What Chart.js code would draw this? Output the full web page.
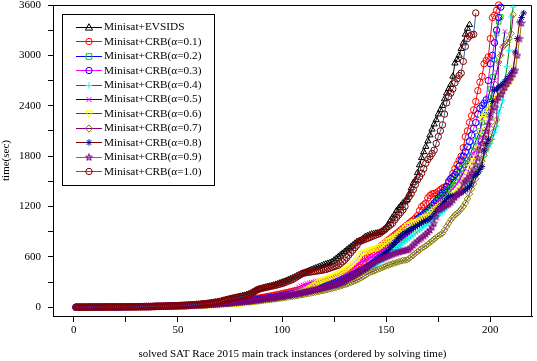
<!DOCTYPE html>
<html>
<head>
<meta charset="utf-8">
<script src="https://cdn.jsdelivr.net/npm/chart.js@4/dist/chart.umd.min.js"></script>
<style>
html,body{margin:0;padding:0;background:#fff;}
#wrap{width:537px;height:361px;position:relative;}
</style>
</head>
<body>
<div id="wrap"><canvas id="c" width="537" height="361"></canvas></div>
<script>
// ---------- DATA ----------
const seriesNames = ['Minisat+EVSIDS','Minisat+CRB(α=0.1)','Minisat+CRB(α=0.2)','Minisat+CRB(α=0.3)','Minisat+CRB(α=0.4)','Minisat+CRB(α=0.5)','Minisat+CRB(α=0.6)','Minisat+CRB(α=0.7)','Minisat+CRB(α=0.8)','Minisat+CRB(α=0.9)','Minisat+CRB(α=1.0)'];
const xTickValues = [0,25,50,75,100,125,150,175,200];
const xLabelValues = [0,50,100,150,200];
const yTickValues = [0,300,600,900,1200,1500,1800,2100,2400,2700,3000,3300,3600];
const yLabelValues = [0,600,1200,1800,2400,3000,3600];
const xAxisTitle = 'solved SAT Race 2015 main track instances (ordered by solving time)';
const yAxisTitle = 'time(sec)';

const evsids = [0,0,0,0,0,0,1,1,1,1, 1,1,1,2,2,2,2,2,3,3, 3,3,4,4,4,4,5,5,5,6, 6,6,7,7,8,8,9,9,10,10,
 11,12,12,13,14,15,16,17,18,19, 20,21,22,23,25,27,29,31,33,35, 37,40,42,45,48,52,56,60,64,68,
 73,80,86,92,98,104,110,116,122,128, 134,140,147,155,165,178,192,204,214,222, 229,236,242,248,255,262,270,278,287,296,
 305,315,325,336,347,358,370,380,392,404, 414,424,434,444,454,464,474,484,494,504, 512,520,530,540,560,580,600,620,640,660,
 680,700,720,740,760,780,790,800,820,840, 850,860,870,875,880,885,890,900,920,950, 990,1030,1070,1100,1150,1180,1210,1240,1260,1280,
 1350,1420,1480,1515,1600,1694,1780,1850,1913,1980, 2050,2120,2180,2231,2300,2350,2400,2480,2550,2600, 2650,2750,2907,2950,3000,3080,3146,3250,3320,3365];

const crb01 = [0,0,0,0,0,0,0,1,1,1, 1,1,1,1,2,2,2,2,2,3, 3,3,3,4,4,4,5,5,5,6, 6,7,7,8,8,9,9,10,11,11,
 12,13,13,14,15,16,17,18,19,20, 21,22,23,24,25,27,28,29,31,32, 34,35,37,39,41,43,45,47,49,51,
 53,56,58,61,63,66,69,72,75,78, 81,84,88,91,95,98,102,106,110,114, 118,122,127,131,136,141,146,151,156,161,
 166,172,177,183,189,195,201,207,214,220, 227,234,241,248,255,263,270,278,286,294, 302,311,320,329,338,347,357,367,377,388,
 399,410,422,434,446,459,472,500,540,580, 600,620,640,660,680,700,720,740,760,780, 800,820,840,860,880,900,920,940,960,980,
 1000,1020,1040,1060,1090,1150,1197,1220,1240,1300, 1330,1350,1356,1360,1380,1400,1420,1430,1435,1480, 1530,1594,1650,1700,1750,1800,1900,2030,2100,2200,
 2280,2350,2450,2580,2680,2750,2900,2940,2981,3200, 3450,3477,3537,3600];

const crb02 = [0,0,0,0,0,0,0,0,0,1, 1,1,1,1,1,1,1,2,2,2, 2,2,2,3,3,3,3,4,4,4, 5,5,5,6,6,7,7,7,8,8,
 9,9,10,10,11,12,12,13,14,14, 15,16,17,18,19,20,21,22,23,24, 26,27,29,30,32,33,35,37,39,41,
 43,45,47,49,51,54,56,58,61,63, 66,69,72,75,78,81,84,88,91,95, 98,102,106,110,114,118,122,126,131,136,
 140,145,150,155,160,165,170,176,181,187, 193,199,205,211,218,225,232,239,246,253, 260,268,276,284,292,300,309,318,328,338,
 348,359,370,382,394,406,419,432,446,460, 475,490,505,520,540,560,580,600,620,640, 660,680,700,720,745,770,795,820,845,870,
 895,920,950,980,1010,1040,1070,1100,1125,1150, 1175,1200,1230,1260,1290,1320,1340,1360,1380,1400, 1430,1460,1500,1550,1600,1650,1690,1720,1760,1800,
 1860,1920,1980,2040,2100,2200,2300,2400,2500,2600, 2743,2950,3260,3400,3457];

const crb03 = [0,0,0,0,0,0,0,0,1,1, 1,1,1,1,1,1,2,2,2,2, 2,2,3,3,3,3,4,4,4,5, 5,5,6,6,6,7,7,8,8,9,
 9,10,10,11,12,12,13,14,14,15, 16,17,18,19,20,21,22,23,24,25, 27,28,30,31,33,35,36,38,40,42,
 44,46,48,50,53,55,57,60,62,65, 68,71,74,77,80,83,86,90,93,97, 100,104,108,112,116,120,124,128,133,138,
 142,147,152,157,162,167,173,178,184,190, 196,202,208,214,221,228,235,242,249,256, 263,271,279,287,295,304,313,322,332,342,
 352,363,374,386,398,410,423,436,450,465, 480,500,520,540,560,580,600,630,660,700, 720,740,760,780,800,820,840,860,880,900,
 930,960,990,1020,1050,1070,1090,1110,1130,1150, 1180,1210,1240,1270,1300,1330,1360,1400,1440,1500, 1530,1554,1580,1610,1680,1754,1800,1850,1910,1972,
 2050,2130,2200,2300,2370,2400,2430,2470,2700,2900, 3000,3150,3300,3450,3575];

const crb04 = [0,0,0,0,0,0,0,0,0,1, 1,1,1,1,1,1,1,2,2,2, 2,2,3,3,3,3,4,4,4,4, 5,5,5,6,6,7,7,7,8,8,
 9,9,10,11,11,12,12,13,14,14, 15,16,17,17,18,19,20,21,22,23, 24,26,27,28,30,31,33,35,36,38,
 40,42,44,46,48,50,52,55,57,60, 62,65,67,70,73,76,79,82,85,88, 91,95,98,102,105,109,113,117,121,125,
 129,133,137,142,146,151,156,160,165,170, 175,181,186,192,197,203,209,215,221,228, 234,241,248,255,262,270,278,286,295,305,
 315,326,338,350,362,375,388,402,416,430, 445,460,475,490,505,520,540,560,580,600, 620,640,660,680,700,720,740,760,780,800,
 820,840,860,880,900,920,940,960,980,1000, 1020,1040,1060,1080,1100,1120,1140,1160,1190,1220, 1250,1280,1310,1340,1370,1400,1430,1460,1480,1500,
 1530,1560,1600,1650,1700,1750,1800,1850,1900,1950, 2000,2080,2150,2311,2380,2466,2705,2862,3061,3457, 3575];

const crb05 = [0,0,0,0,0,0,0,0,1,1, 1,1,1,1,1,2,2,2,2,2, 2,3,3,3,3,4,4,4,5,5, 5,6,6,7,7,8,8,9,9,10,
 10,11,11,12,13,13,14,15,16,17, 17,18,19,20,21,22,24,25,26,27, 29,30,32,33,35,37,39,41,43,45,
 47,49,51,54,56,58,61,63,66,69, 72,75,78,81,84,87,90,94,97,101, 105,109,113,117,121,125,130,135,140,145,
 150,156,162,170,180,195,215,240,255,265, 272,280,290,296,300,305,310,315,320,326, 332,338,345,352,360,368,376,385,395,405,
 420,440,460,480,500,515,530,545,552,560, 575,590,602,615,630,645,660,675,690,700, 720,740,760,780,800,815,830,845,860,880,
 900,920,940,960,980,1000,1025,1050,1075,1100, 1125,1150,1175,1200,1225,1250,1275,1300,1325,1350, 1380,1410,1440,1470,1500,1550,1600,1650,1700,1750,
 1790,1830,1870,1910,1950,1990,2050,2120,2200,2300, 2605,2700,2800,2900,3020,3100,3285];

const crb06 = [0,0,0,0,0,0,0,0,0,0, 0,1,1,1,1,1,1,1,1,2, 2,2,2,2,2,3,3,3,3,4, 4,4,4,5,5,5,6,6,6,7,
 7,8,8,9,9,10,10,11,11,12, 12,13,14,14,15,16,17,17,18,19, 20,21,22,23,24,25,27,28,29,31,
 32,34,35,37,39,41,43,45,47,49, 52,54,57,60,63,66,69,72,76,80, 84,88,92,96,100,105,110,115,120,126,
 132,138,144,150,157,164,171,178,186,194, 204,215,228,242,258,275,292,305,318,330, 340,350,360,370,380,390,400,415,430,445,
 460,480,500,520,545,570,600,640,650,660, 670,680,690,700,700,710,725,740,760,780, 795,810,825,840,850,870,890,920,950,975,
 990,1000,1010,1020,1030,1040,1055,1070,1085,1100, 1120,1140,1160,1180,1200,1220,1240,1260,1280,1300, 1320,1340,1360,1380,1400,1430,1470,1520,1590,1670,
 1710,1750,1790,1900,2100,2250,2280,2310,2350,2400, 2430,2460,2490,2520,2550,2580,2610,2640,2670,2700, 2860,3000,3180];

const crb07 = [0,0,0,0,0,0,0,0,0,0, 1,1,1,1,1,1,1,1,2,2, 2,2,2,2,3,3,3,3,4,4, 4,4,5,5,5,6,6,7,7,7,
 8,8,9,9,10,10,11,11,12,13, 13,14,15,15,16,17,18,19,20,21, 22,23,24,25,27,28,29,31,32,34,
 35,37,39,40,42,44,46,48,50,52, 54,57,59,61,64,66,69,71,74,77, 80,83,86,89,92,95,98,102,105,109,
 112,116,120,124,128,132,136,140,145,149, 154,158,163,168,173,178,183,188,194,199, 205,211,217,223,229,236,243,250,258,266,
 275,284,293,303,313,323,335,350,365,380, 395,410,420,430,440,450,460,470,480,490, 500,510,518,526,534,542,550,556,560,563,
 580,600,620,640,660,680,700,715,730,750, 770,790,810,830,850,865,880,920,960,1000, 1040,1070,1100,1118,1140,1170,1200,1240,1290,1350,
 1410,1470,1530,1600,1673,1740,1810,1880,1940,2000, 2080,2160,2231,2920,3000,3100,3130,3150,3200,3260, 3485];

const crb08 = [0,0,0,0,0,0,0,0,0,1, 1,1,1,1,1,1,1,2,2,2, 2,2,2,3,3,3,3,4,4,4, 4,5,5,5,6,6,7,7,8,8,
 9,9,10,10,11,11,12,13,13,14, 15,16,16,17,18,19,20,21,22,23, 25,26,27,29,30,32,33,35,37,39,
 41,43,45,47,49,51,53,56,58,61, 63,66,68,71,74,77,80,83,86,89, 92,96,99,103,106,110,114,118,122,126,
 130,134,139,143,148,152,157,162,167,172, 177,182,188,193,199,205,211,217,223,230, 236,243,250,257,264,272,280,290,300,312,
 325,338,352,366,380,395,410,425,440,455, 470,490,510,530,550,570,590,610,630,650, 680,710,740,770,800,830,850,870,885,900,
 915,930,945,960,975,990,1005,1020,1030,1040, 1060,1080,1110,1140,1170,1200,1230,1260,1290,1316, 1320,1325,1330,1340,1350,1360,1380,1400,1420,1440,
 1480,1554,1580,1600,1640,1674,1871,1950,2000,2300, 2450,2585,2600,2620,2640,2660,2690,2720,2750,2790, 2823,3040,3200,3398,3450,3505];

const crb09 = [0,0,0,0,0,0,0,0,1,1, 1,1,1,1,1,1,2,2,2,2, 2,2,3,3,3,3,4,4,4,5, 5,5,6,6,7,7,8,8,9,9,
 10,10,11,12,12,13,14,15,15,16, 17,18,19,20,21,22,23,24,25,27, 28,30,31,33,34,36,38,40,42,44,
 46,48,50,52,54,57,59,62,64,67, 70,72,75,78,81,84,87,90,94,97, 100,104,107,111,114,118,122,126,130,134,
 138,142,146,151,155,160,164,169,174,179, 184,189,194,200,205,211,217,223,229,235, 241,247,254,260,267,274,281,292,305,318,
 332,346,360,375,390,405,420,440,455,470, 485,500,515,530,545,560,570,580,590,600, 610,620,630,640,650,658,665,672,678,684,
 690,715,740,765,790,810,830,850,870,895, 920,960,1000,1080,1157,1170,1185,1200,1215,1230, 1250,1280,1310,1340,1370,1400,1475,1500,1530,1560,
 1600,1640,1700,1780,1871,1950,2030,2100,2180,2260, 2347,2386,2466,2500,2540,2580,2620,2665,2700,2740, 2780,2823,3000,3200,3385];

const crb10 = [0,0,0,0,0,0,1,1,1,1, 1,1,1,2,2,2,2,2,2,3, 3,3,3,4,4,4,4,5,5,5, 6,6,6,7,7,8,8,9,9,10,
 10,11,12,12,13,14,15,16,17,18, 19,20,21,22,23,25,27,29,31,33, 35,38,40,43,46,50,54,58,62,66,
 72,80,87,93,99,105,110,115,120,125, 130,136,142,150,160,175,190,206,215,222, 228,234,240,245,250,256,262,268,275,282,
 290,300,310,320,330,345,360,375,390,404, 408,412,416,420,424,428,432,436,440,445, 450,458,466,475,483,492,500,520,540,560,
 590,620,650,680,710,740,779,790,800,810, 820,830,840,850,860,870,880,900,920,940, 960,980,1000,1038,1070,1100,1130,1160,1200,1277,
 1316,1350,1400,1460,1515,1555,1595,1650,1714,1760, 1794,1830,1870,1950,2032,2100,2172,2300,2434,2510, 2550,2600,2673,2720,2760,2788,2928,3106,3200,3230,
 3245,3250,3505];

const seriesValues = [evsids, crb01, crb02, crb03, crb04, crb05, crb06, crb07, crb08, crb09, crb10];

// ---------- STYLES ----------
const FONT = "'Liberation Serif','Times New Roman',serif";
const lineColors   = ['#000000','#FF0000','#0000FF','#FF00FF','#008000','#000080','#7F00FF','#800080','#800000','#808000','#336699'];
const markerColors = ['#000000','#FF0000','#00CC00','#0000FF','#00FFFF','#FF00FF','#FFFF00','#808000','#000080','#800080','#800000'];
const markerKinds  = ['triangle','circle','rect','circle','cross','crossRot','triDown','rectRot','star','star5','circle'];

function makeStar5(color){
  const c = document.createElement('canvas');
  c.width = 8; c.height = 8;
  const g = c.getContext('2d');
  g.beginPath();
  for (let k = 0; k < 10; k++) {
    const r = (k % 2) ? 1.5 : 3.6;
    const a = -Math.PI/2 + k*Math.PI/5;
    g.lineTo(4 + r*Math.cos(a), 4.3 + r*Math.sin(a));
  }
  g.closePath();
  g.fillStyle = 'rgba(128,0,128,0.35)';
  g.fill();
  g.strokeStyle = color; g.lineWidth = 1; g.stroke();
  return c;
}
const star5Img = makeStar5('#800080');

function pointStyleOf(kind){
  if (kind === 'triDown') return 'triangle';
  if (kind === 'star5') return star5Img;
  return kind;
}

const datasets = seriesValues.map((vals, s) => ({
  label: seriesNames[s],
  data: vals.map((v, k) => ({x: k + 1, y: v})),
  borderColor: lineColors[s],
  borderWidth: 1,
  pointStyle: pointStyleOf(markerKinds[s]),
  pointRotation: markerKinds[s] === 'triDown' ? 180 : 0,
  pointRadius: (markerKinds[s] === 'triangle' || markerKinds[s] === 'triDown') ? 3.6 : 3.2,
  pointBorderColor: markerColors[s],
  pointBackgroundColor: 'rgba(0,0,0,0)',
  pointBorderWidth: 1,
  tension: 0,
  fill: false,
  clip: false,
  order: seriesValues.length - 1 - s
}));

// ---------- LEGEND + FRAME PLUGIN ----------
function drawMarker(ctx, kind, x, y, color){
  ctx.save();
  ctx.strokeStyle = color; ctx.fillStyle = color; ctx.lineWidth = 1;
  const r = 3.2;
  ctx.beginPath();
  switch (kind) {
    case 'circle': ctx.arc(x, y, r, 0, Math.PI*2); ctx.stroke(); break;
    case 'rect': ctx.rect(x - 2.8, y - 2.8, 5.6, 5.6); ctx.stroke(); break;
    case 'triangle': ctx.moveTo(x, y - 3.8); ctx.lineTo(x + 3.6, y + 2.6); ctx.lineTo(x - 3.6, y + 2.6); ctx.closePath(); ctx.stroke(); break;
    case 'triDown': ctx.moveTo(x, y + 3.8); ctx.lineTo(x + 3.6, y - 2.6); ctx.lineTo(x - 3.6, y - 2.6); ctx.closePath(); ctx.stroke(); break;
    case 'cross': ctx.moveTo(x - r, y); ctx.lineTo(x + r, y); ctx.moveTo(x, y - r); ctx.lineTo(x, y + r); ctx.stroke(); break;
    case 'crossRot': ctx.moveTo(x - 2.6, y - 2.6); ctx.lineTo(x + 2.6, y + 2.6); ctx.moveTo(x + 2.6, y - 2.6); ctx.lineTo(x - 2.6, y + 2.6); ctx.stroke(); break;
    case 'rectRot': ctx.moveTo(x, y - 3.6); ctx.lineTo(x + 3.6, y); ctx.lineTo(x, y + 3.6); ctx.lineTo(x - 3.6, y); ctx.closePath(); ctx.stroke(); break;
    case 'star':
      ctx.moveTo(x - r, y); ctx.lineTo(x + r, y); ctx.moveTo(x, y - r); ctx.lineTo(x, y + r);
      ctx.moveTo(x - 2.3, y - 2.3); ctx.lineTo(x + 2.3, y + 2.3); ctx.moveTo(x + 2.3, y - 2.3); ctx.lineTo(x - 2.3, y + 2.3); ctx.stroke(); break;
    case 'star5': ctx.drawImage(star5Img, x - 4, y - 4.3); break;
  }
  ctx.restore();
}

const customPlugin = {
  id: 'customFrameLegend',
  beforeDatasetsDraw(chart){
    const {ctx, chartArea: a} = chart;
    ctx.save();
    ctx.strokeStyle = '#000'; ctx.lineWidth = 1;
    ctx.beginPath();
    const t = Math.round(a.top) + 0.5, r = Math.round(a.right) - 0.5;
    ctx.moveTo(Math.round(a.left), t); ctx.lineTo(r, t); ctx.lineTo(r, Math.round(a.bottom));
    ctx.stroke();
    ctx.restore();
  },
  afterDraw(chart){
    const ctx = chart.ctx;
    ctx.save();
    ctx.fillStyle = '#fff';
    ctx.fillRect(62, 14, 152, 171);
    ctx.strokeStyle = '#000'; ctx.lineWidth = 1;
    ctx.strokeRect(62.5, 14.5, 152, 171);
    ctx.font = "11.3px " + FONT;
    ctx.textBaseline = 'middle';
    ctx.textAlign = 'left';
    seriesNames.forEach((name, s) => {
      const y = 26.7 + 14.45*s;
      ctx.strokeStyle = lineColors[s];
      ctx.beginPath(); ctx.moveTo(76, Math.round(y) + 0.5); ctx.lineTo(102, Math.round(y) + 0.5); ctx.stroke();
      drawMarker(ctx, markerKinds[s], 89, Math.round(y) + 0.5, markerColors[s]);
      ctx.fillStyle = '#000';
      ctx.fillText(name, 104, y + 0.5);
    });
    ctx.restore();
  }
};

// ---------- CHART ----------
new Chart(document.getElementById('c'), {
  type: 'line',
  data: { datasets },
  plugins: [customPlugin],
  options: {
    responsive: false,
    animation: false,
    events: [],
    layout: { padding: { top: 4, right: 1, left: 0, bottom: 0 } },
    plugins: { legend: { display: false }, tooltip: { enabled: false } },
    scales: {
      x: {
        type: 'linear',
        position: 'bottom',
        min: -10, max: 220,
        afterBuildTicks: (sc) => { sc.ticks = xTickValues.map(v => ({value: v})); },
        afterFit: (sc) => { sc.height = 45; sc.paddingLeft = 0; sc.paddingRight = 0; },
        ticks: {
          autoSkip: false, maxRotation: 0, padding: 1.5, color: '#000',
          font: { family: FONT, size: 11 },
          callback: (v) => xLabelValues.includes(v) ? String(v) : ''
        },
        grid: { drawOnChartArea: false, drawTicks: true, tickLength: 6, color: '#000', lineWidth: 1 },
        border: { display: true, color: '#000', width: 1 },
        title: { display: true, text: xAxisTitle, color: '#000', font: { family: FONT, size: 11 }, padding: { top: 0, bottom: 0 } }
      },
      y: {
        type: 'linear',
        position: 'left',
        min: -105, max: 3600,
        afterBuildTicks: (sc) => { sc.ticks = yTickValues.map(v => ({value: v})); },
        afterFit: (sc) => { sc.width = 53; sc.paddingTop = 0; sc.paddingBottom = 0; },
        ticks: {
          autoSkip: false, padding: 7, color: '#000',
          font: { family: FONT, size: 11 },
          callback: (v) => yLabelValues.includes(v) ? String(v) : ''
        },
        grid: { drawOnChartArea: false, drawTicks: true, tickLength: 5, color: '#000', lineWidth: 1 },
        border: { display: true, color: '#000', width: 1 },
        title: { display: true, text: yAxisTitle, color: '#000', font: { family: FONT, size: 11 }, padding: { top: 0, bottom: 0 } }
      }
    }
  }
});
</script>
</body>
</html>
